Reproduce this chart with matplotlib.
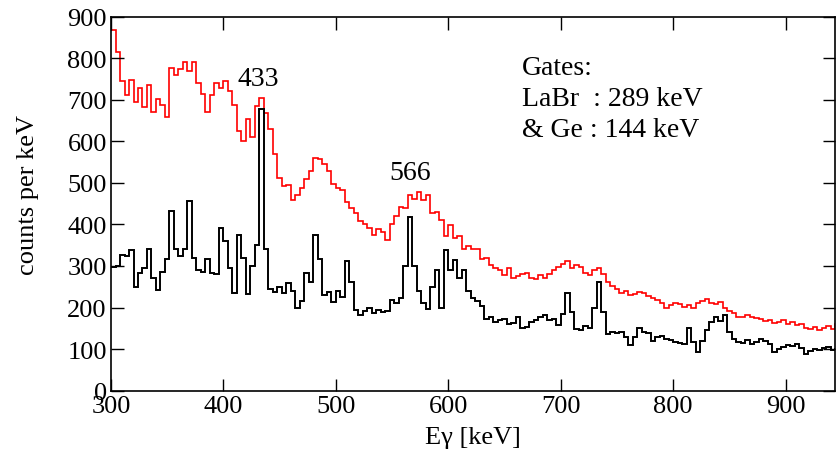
import numpy as np
import matplotlib
matplotlib.use("Agg")
import matplotlib.pyplot as plt

plt.rcParams['font.family'] = ['Liberation Serif', 'DejaVu Serif']
plt.rcParams['mathtext.fontset'] = 'stix'

E_START = 300   # keV, first bin edge
BIN_WIDTH = 4   # keV

red_counts = [
    868, 815, 745, 712, 748, 695, 728, 682, 735, 672,   # 300-336
    702, 688, 660, 778, 760, 775, 792, 770, 792, 742,   # 340-376
    715, 672, 712, 742, 728, 745, 722, 688, 625, 600,   # 380-416
    655, 610, 685, 705, 668, 630, 570, 512, 492, 494,   # 420-456
    458, 470, 488, 510, 530, 560, 558, 545, 530, 498,   # 460-496
    488, 482, 455, 440, 428, 408, 400, 392, 375, 388,   # 500-536
    382, 362, 400, 420, 442, 440, 470, 462, 478, 458,   # 540-576
    470, 428, 430, 412, 372, 398, 368, 372, 342, 348,   # 580-616
    340, 342, 318, 320, 302, 296, 290, 278, 296, 270,   # 620-656
    275, 280, 284, 272, 268, 278, 272, 280, 290, 298,   # 660-696
    305, 312, 294, 302, 298, 284, 278, 290, 295, 280,   # 700-736
    262, 252, 245, 235, 240, 230, 232, 238, 236, 228,   # 740-776
    222, 218, 210, 200, 205, 212, 208, 202, 206, 200,   # 780-816
    210, 216, 220, 212, 208, 214, 200, 192, 186, 178,   # 820-856
    176, 182, 178, 174, 172, 168, 170, 162, 166, 170,   # 860-896
    160, 165, 158, 160, 150, 148, 154, 146, 150, 156,   # 900-936
    148, 160,                                           # 940-944
]

black_counts = [
    297, 300, 326, 325, 338, 250, 282, 295, 340, 272,   # 300-336
    242, 285, 318, 432, 340, 325, 340, 456, 320, 290,   # 340-376
    285, 318, 282, 280, 392, 360, 295, 235, 375, 320,   # 380-416
    232, 300, 350, 678, 340, 245, 238, 250, 236, 258,   # 420-456
    240, 200, 215, 282, 262, 375, 318, 230, 238, 214,   # 460-496
    240, 225, 312, 262, 195, 182, 192, 198, 186, 195,   # 500-536
    188, 192, 218, 210, 222, 300, 418, 300, 240, 212,   # 540-576
    196, 250, 290, 200, 338, 290, 315, 270, 290, 240,   # 580-616
    222, 215, 204, 172, 178, 166, 170, 172, 160, 162,   # 620-656
    178, 150, 152, 166, 170, 176, 182, 170, 172, 158,   # 660-696
    185, 236, 190, 148, 145, 156, 150, 200, 262, 188,   # 700-736
    135, 140, 138, 140, 128, 110, 130, 150, 142, 138,   # 740-776
    120, 128, 132, 125, 122, 118, 114, 112, 150, 118,   # 780-816
    92, 120, 145, 165, 178, 168, 182, 140, 125, 118,    # 820-856
    115, 122, 112, 118, 125, 120, 112, 92, 100, 106,    # 860-896
    110, 108, 112, 102, 88, 96, 100, 98, 102, 104,      # 900-936
    98, 100,                                            # 940-944
]

x_ticks = [300, 400, 500, 600, 700, 800, 900]
y_ticks = [0, 100, 200, 300, 400, 500, 600, 700, 800, 900]
peak_labels = ["433", "566"]
peak_energies = [431, 566]
peak_label_counts = [752, 525]
gate_lines = ["Gates:", "LaBr  : 289 keV", "& Ge : 144 keV"]

red_edges = E_START + BIN_WIDTH * np.arange(len(red_counts) + 1)
black_edges = E_START + BIN_WIDTH * np.arange(len(black_counts) + 1)

fig = plt.figure(figsize=(8.36, 4.60), dpi=100)
ax = fig.add_axes([0.1328, 0.1489, 0.8660, 0.8120])

ax.stairs(red_counts, red_edges, color='#ff0000', linewidth=1.2, baseline=None)
ax.stairs(black_counts, black_edges, color='black', linewidth=1.4, baseline=None)

ax.set_xlim(300, 944)
ax.set_ylim(0, 900)
ax.set_xticks(x_ticks)
ax.set_yticks(y_ticks)
ax.tick_params(direction='in', length=9, width=1.0, top=True, right=True,
               labelsize=19, pad=3)
for s in ax.spines.values():
    s.set_linewidth(1.2)

ax.set_xlabel("Eγ [keV]", fontsize=19, labelpad=7)
ax.set_ylabel("counts per keV", fontsize=19)
ax.yaxis.set_label_coords(-0.100, 0.526)

for lab, e, c in zip(peak_labels, peak_energies, peak_label_counts):
    ax.text(e, c, lab, fontsize=20, ha='center', va='center')

for i, line in enumerate(gate_lines):
    ax.text(0.568, 0.866 - i * 0.084, line, transform=ax.transAxes,
            fontsize=20, ha='left', va='center')

fig.savefig("out.png", dpi=100)
